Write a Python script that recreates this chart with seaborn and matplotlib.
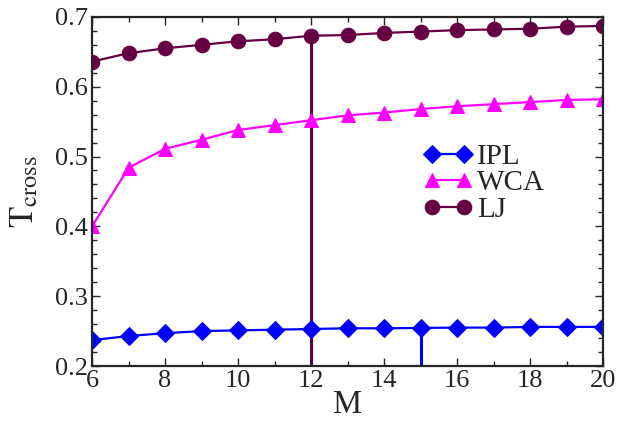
import pandas as pd
import matplotlib
matplotlib.use("Agg")
import matplotlib.pyplot as plt
import seaborn as sns
from matplotlib.ticker import MultipleLocator

# data
M = [6, 7, 8, 9, 10, 11, 12, 13, 14, 15, 16, 17, 18, 19, 20]
ipl = [0.237, 0.243, 0.247, 0.250, 0.251, 0.252, 0.253, 0.254, 0.254, 0.2545, 0.255, 0.255, 0.256, 0.256, 0.256]
wca = [0.400, 0.484, 0.511, 0.524, 0.538, 0.545, 0.552, 0.559, 0.563, 0.568, 0.572, 0.575, 0.578, 0.581, 0.582]
lj = [0.636, 0.648, 0.655, 0.660, 0.665, 0.668, 0.673, 0.674, 0.677, 0.679, 0.681, 0.682, 0.683, 0.686, 0.687]

# vertical drop lines (M position of each crossing)
cross_M = {"IPL": 15, "WCA": 20, "LJ": 12}

series = {"IPL": ipl, "WCA": wca, "LJ": lj}
colors = {"IPL": "#0000ff", "WCA": "#ff00ff", "LJ": "#670043"}
markers = {"IPL": "D", "WCA": "^", "LJ": "o"}
msizes = {"IPL": 9, "WCA": 9.5, "LJ": 10.5}

sns.set_style("ticks")
plt.rcParams["font.family"] = "serif"
plt.rcParams["font.serif"] = ["Liberation Serif", "Nimbus Roman", "STIXGeneral", "DejaVu Serif"]
plt.rcParams["mathtext.fontset"] = "stix"

fig = plt.figure(figsize=(6.18, 4.22), dpi=100)
ax = fig.add_axes([0.149, 0.1327, 0.827, 0.8273])

for name, vals in series.items():
    df = pd.DataFrame({"M": M, "T": vals})
    sns.lineplot(data=df, x="M", y="T", ax=ax, color=colors[name], marker=markers[name],
                 markersize=msizes[name], markeredgecolor=colors[name], linewidth=1.6,
                 label=name)
    # drop line from the curve to the bottom axis
    xm = cross_M[name]
    ax.vlines(xm, 0.2, vals[M.index(xm)], color=colors[name], linewidth=2.2, zorder=1)

ax.set_xlim(6, 20)
ax.set_ylim(0.2, 0.7)
ax.xaxis.set_major_locator(MultipleLocator(2))
ax.xaxis.set_minor_locator(MultipleLocator(1))
ax.yaxis.set_major_locator(MultipleLocator(0.1))
ax.yaxis.set_minor_locator(MultipleLocator(0.02))
ax.tick_params(which="both", direction="in", top=True, right=True, labelsize=19, pad=3)
ax.tick_params(which="major", length=6, width=1)
ax.tick_params(which="minor", length=3.5, width=1)
for sp in ax.spines.values():
    sp.set_linewidth(1.6)

ax.set_xlabel("M", fontsize=23.5, labelpad=-2)
ax.set_ylabel(r"$\mathrm{T}_{\mathrm{cross}}$", fontsize=25, labelpad=10)

ax.legend(loc="center left", bbox_to_anchor=(0.647, 0.5235), frameon=False, fontsize=21,
          numpoints=2, handlelength=1.7, labelspacing=0.0, handletextpad=0.15,
          borderaxespad=0, borderpad=0)

fig.savefig("out.png", dpi=100)
